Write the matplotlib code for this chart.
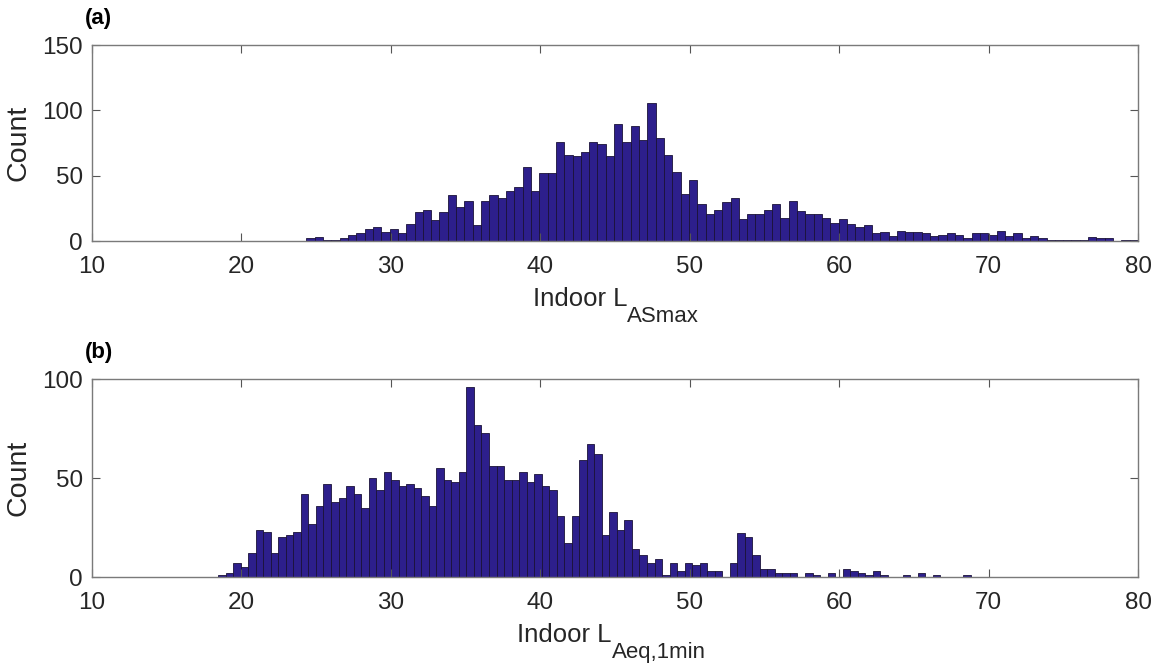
import numpy as np
import matplotlib
matplotlib.use('Agg')
import matplotlib.pyplot as plt
from matplotlib.transforms import offset_copy

plt.rcParams['font.family'] = ['Liberation Sans', 'DejaVu Sans']

# panel (a): indoor LASmax, 100 bins
a_lo, a_hi = 24.35, 80.0
a_counts = [2, 3, 1, 1, 2, 5, 6, 9, 11, 7,
            9, 6, 13, 22, 24, 16, 22, 35, 26, 31,
            12, 31, 35, 33, 38, 41, 57, 38, 52, 52,
            76, 66, 65, 68, 76, 74, 65, 90, 76, 88,
            77, 106, 79, 66, 53, 36, 47, 28, 21, 24,
            30, 33, 17, 21, 21, 24, 28, 18, 31, 23,
            21, 21, 18, 14, 17, 13, 11, 12, 6, 7,
            4, 8, 7, 7, 6, 4, 5, 6, 5, 2,
            6, 6, 5, 8, 4, 6, 2, 4, 2, 1,
            1, 1, 1, 1, 3, 2, 2, 0, 1, 1]

# panel (b): indoor LAeq,1min, 100 bins
b_lo, b_hi = 18.44, 68.79
b_counts = [1, 2, 7, 5, 12, 24, 23, 12, 20, 21,
            23, 42, 27, 36, 47, 38, 40, 46, 42, 35,
            50, 44, 53, 49, 46, 47, 45, 41, 36, 55,
            49, 48, 53, 96, 77, 73, 56, 56, 49, 49,
            53, 48, 52, 46, 44, 31, 17, 31, 59, 67,
            62, 21, 33, 24, 29, 14, 11, 7, 9, 1,
            7, 3, 7, 6, 7, 3, 3, 0, 7, 22,
            20, 11, 4, 4, 2, 2, 2, 0, 2, 1,
            0, 2, 0, 4, 3, 2, 1, 3, 1, 0,
            0, 1, 0, 2, 0, 1, 0, 0, 0, 1]

fig = plt.figure(figsize=(11.53, 6.64), dpi=100)
ax1 = fig.add_axes([0.0798, 0.637, 0.9072, 0.295])
ax2 = fig.add_axes([0.0798, 0.131, 0.9072, 0.298])

face = '#2d1f8c'
edge = '#1a1238'
txt = '#262626'


def draw(ax, lo, hi, counts, ymax, yt, sub, split, tag):
    edges = np.linspace(lo, hi, len(counts) + 1)
    ax.hist(edges[:-1], bins=edges, weights=counts, color=face,
            edgecolor=edge, linewidth=0.6)
    ax.set_xlim(10, 80)
    ax.set_ylim(0, ymax)
    ax.set_xticks(range(10, 81, 10))
    ax.set_yticks(yt)
    ax.tick_params(direction='in', top=True, right=True, length=6,
                   color='#555555', labelsize=17.5, labelcolor=txt)
    ax.tick_params(axis='x', pad=11)
    ax.tick_params(axis='y', pad=6.5)
    for s in ax.spines.values():
        s.set_color('#7a7a7a')
        s.set_linewidth(1.0)
    ax.set_ylabel('Count', fontsize=20.5, color=txt)
    ax.yaxis.set_label_coords(-0.058, 0.5)
    # x label with a large, low subscript
    t1 = offset_copy(ax.transAxes, fig=fig, y=-46.5, units='points')
    t2 = offset_copy(ax.transAxes, fig=fig, y=-58, units='points')
    ax.text(split, 0, 'Indoor L', transform=t1, fontsize=18.5, color=txt,
            ha='right', va='baseline')
    ax.text(split, 0, sub, transform=t2, fontsize=16, color=txt,
            ha='left', va='baseline')
    t3 = offset_copy(ax.transAxes, fig=fig, y=15, units='points')
    ax.text(-0.007, 1, tag, transform=t3, fontsize=16,
            fontweight='bold', ha='left', va='baseline')


draw(ax1, a_lo, a_hi, a_counts, 150, [0, 50, 100, 150], 'ASmax', 0.5115, '(a)')
draw(ax2, b_lo, b_hi, b_counts, 100, [0, 50, 100], 'Aeq,1min', 0.497, '(b)')

fig.savefig('out.png', dpi=100)
